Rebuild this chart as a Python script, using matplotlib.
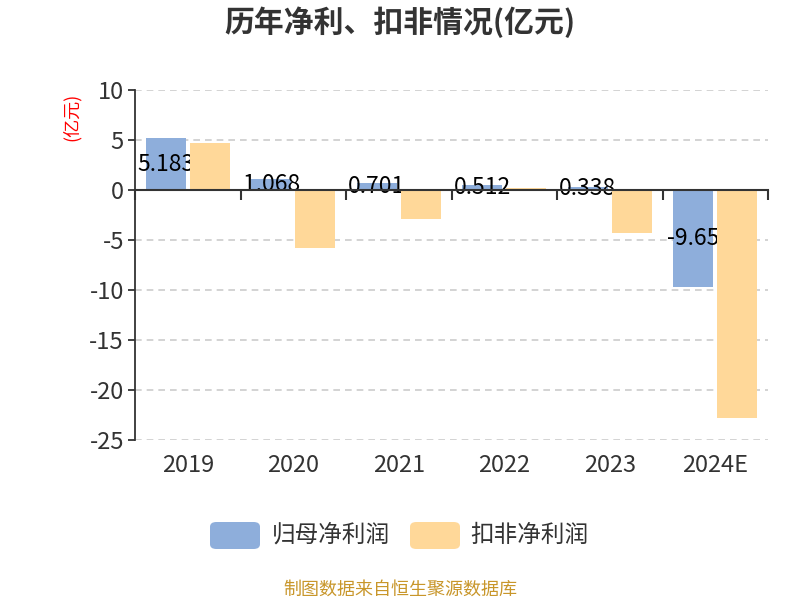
import matplotlib
matplotlib.use("Agg")
import matplotlib.pyplot as plt
from matplotlib.patches import FancyBboxPatch
from matplotlib.transforms import blended_transform_factory
import numpy as np

plt.rcParams['font.family'] = ['Noto Sans CJK SC', 'DejaVu Sans']

categories = ['2019', '2020', '2021', '2022', '2023', '2024E']
net_profit = [5.183, 1.068, 0.701, 0.512, 0.338, -9.65]
net_profit_labels = ['5.183', '1.068', '0.701', '0.512', '0.338', '-9.65']
deducted_profit = [4.73, -5.83, -2.9, 0.25, -4.27, -22.77]
series_names = ['归母净利润', '扣非净利润']
yticks = [10, 5, 0, -5, -10, -15, -20, -25]

blue = '#8eaedb'
orange = '#ffd899'
axis_c = '#333333'

W, H = 800, 600
fig = plt.figure(figsize=(8, 6), dpi=100)
ax = fig.add_axes([135 / W, 1 - 440 / H, (768 - 135) / W, (440 - 90) / H])

x = np.arange(len(categories))
bw = 0.38
off = 0.21
ax.bar(x - off, net_profit, width=bw, color=blue, zorder=2)
ax.bar(x + off, deducted_profit, width=bw, color=orange, zorder=4)
for xi, v, lab in zip(x, net_profit, net_profit_labels):
    ax.text(xi - off, v / 2, lab, ha='center', va='center', fontsize=16.5,
            color='#000000', zorder=3)

ax.set_xlim(-0.5, len(categories) - 0.5)
ax.set_ylim(-25, 10)
ax.set_yticks(yticks)
ax.set_yticklabels([str(t) for t in yticks], fontsize=17, color=axis_c)
for t in yticks:
    if t != 0:
        ax.axhline(t, color='#cccccc', lw=1.2, ls=(0, (4, 3)), zorder=1)

for s in ['top', 'right']:
    ax.spines[s].set_visible(False)
ax.spines['left'].set_color(axis_c)
ax.spines['left'].set_linewidth(1.3)
ax.spines['bottom'].set_position(('data', 0))
ax.spines['bottom'].set_color(axis_c)
ax.spines['bottom'].set_linewidth(1.5)
ax.spines['bottom'].set_zorder(5)
ax.tick_params(axis='y', length=5, width=1.3, color=axis_c, pad=3)
ax.set_xticks(np.arange(-0.5, len(categories), 1.0))
ax.set_xticklabels([])
ax.tick_params(axis='x', length=7, width=1.5, color=axis_c, direction='out')

tr = blended_transform_factory(ax.transData, fig.transFigure)
for xi, c in zip(x, categories):
    ax.text(xi, 1 - 465 / H, c, transform=tr, ha='center', va='center',
            fontsize=17, color=axis_c)

fig.text(72 / W, 1 - 117 / H, '(亿元)', rotation=90, ha='center', va='center',
         fontsize=13, color='#ff0000')
fig.text(400 / W, 1 - 22 / H, '历年净利、扣非情况(亿元)', ha='center', va='center',
         fontsize=21.5, fontweight='bold', color=axis_c)

# legend
for (x0, col, name, tx) in [(210, blue, series_names[0], 272),
                            (410, orange, series_names[1], 470)]:
    box = FancyBboxPatch((x0 / W, 1 - 549 / H), 50 / W, 27 / H,
                         boxstyle='round,pad=0,rounding_size=0.008',
                         transform=fig.transFigure, facecolor=col,
                         edgecolor='none')
    fig.add_artist(box)
    fig.text(tx / W, 1 - 535 / H, name, ha='left', va='center', fontsize=17,
             color=axis_c)

fig.text(400 / W, 1 - 590 / H, '制图数据来自恒生聚源数据库', ha='center',
         va='center', fontsize=13, color='#c8962a')

fig.savefig('out.png', dpi=100)
